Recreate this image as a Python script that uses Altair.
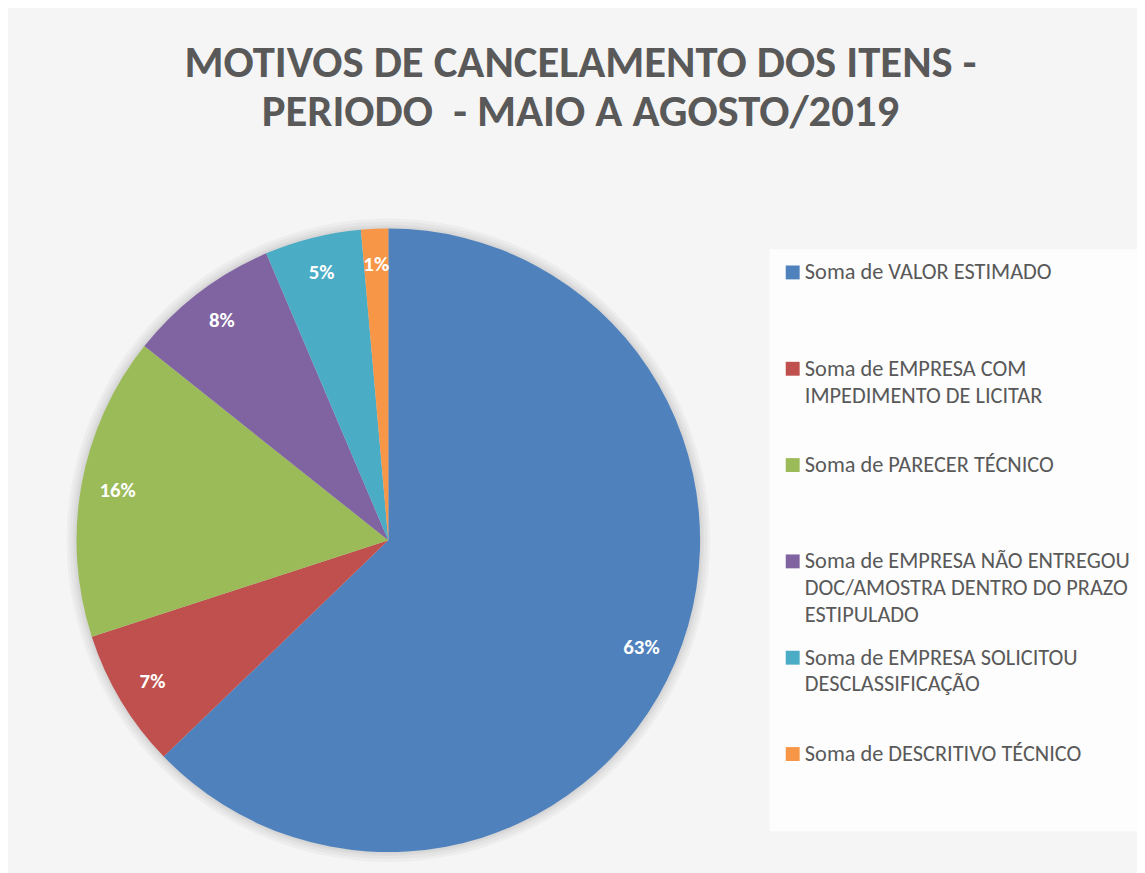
import altair as alt
import pandas as pd

categories = [
    "Soma de VALOR ESTIMADO",
    "Soma de EMPRESA COM|IMPEDIMENTO DE LICITAR",
    "Soma de PARECER TÉCNICO",
    "Soma de EMPRESA NÃO ENTREGOU|DOC/AMOSTRA DENTRO DO PRAZO|ESTIPULADO",
    "Soma de EMPRESA SOLICITOU|DESCLASSIFICAÇÃO",
    "Soma de DESCRITIVO TÉCNICO",
]
values = [62.8, 7.2, 15.7, 7.9, 5.0, 1.4]
colors = ["#4F81BD", "#C0504D", "#9BBB59", "#8064A2", "#4BACC6", "#F79646"]
title_lines = ["MOTIVOS DE CANCELAMENTO DOS ITENS -", "PERIODO\u00a0 - MAIO A AGOSTO/2019"]

df = pd.DataFrame({"categoria": categories, "valor": values, "ordem": list(range(len(categories)))})

FONT = "Carlito, Lato, sans-serif"
CX, CY = 383, 393
R = 314

base = alt.Chart(df).transform_joinaggregate(total="sum(valor)").transform_calculate(
    pct="datum.valor / datum.total"
)

shadow_src = alt.Chart(pd.DataFrame({"k": [0]}))
shadows = [
    shadow_src.mark_arc(theta=0, theta2=6.2832, radius=R + d, color="black", opacity=0.03).encode(
        x=alt.value(CX), y=alt.value(CY)
    )
    for d in (2, 4, 7, 10)
]

pie = base.mark_arc(radius=R).encode(
    theta=alt.Theta("valor:Q", stack=True),
    color=alt.Color(
        "categoria:N",
        scale=alt.Scale(domain=categories, range=colors),
        sort=categories,
        legend=alt.Legend(
            title=None,
            orient="none",
            legendX=767,
            legendY=100,
            fillColor="#fdfdfd",
            padding=12,
            symbolType="square",
            symbolSize=196,
            symbolStrokeWidth=0,
            labelFont=FONT,
            labelFontSize=22.5,
            labelColor="#595959",
            labelLimit=600,
            labelOffset=1,
            labelBaseline="middle",
            labelExpr="slice(split(datum.label + '||', '|'), 0, 3)",
            rowPadding=20,
        ),
    ),
    order=alt.Order("ordem:Q"),
    x=alt.value(CX),
    y=alt.value(CY),
)

labels = base.mark_text(
    radius=277, font=FONT, fontWeight="bold", fontSize=21, color="white"
).encode(
    theta=alt.Theta("valor:Q", stack=True),
    order=alt.Order("ordem:Q"),
    text=alt.Text("pct:Q", format=".0%"),
    x=alt.value(CX),
    y=alt.value(CY),
)

chart = (
    alt.layer(*shadows, pie, labels)
    .properties(
        width=1137,
        height=725,
        padding={"left": 0, "top": 140, "right": 0, "bottom": 0},
        autosize=alt.AutoSizeParams(type="none"),
        background="#f5f5f5",
        title=alt.TitleParams(
            text=title_lines,
            font=FONT,
            fontSize=45,
            fontWeight="bold",
            color="#595959",
            lineHeight=50,
            anchor="middle",
            offset=15,
            dx=8,
        ),
    )
    .configure(
        style={"guide-label": {"lineHeight": 27}},
        view=alt.ViewConfig(stroke="transparent", strokeWidth=0),
    )
)

chart.save("out.html", embed_options={"renderer": "svg", "actions": False})
